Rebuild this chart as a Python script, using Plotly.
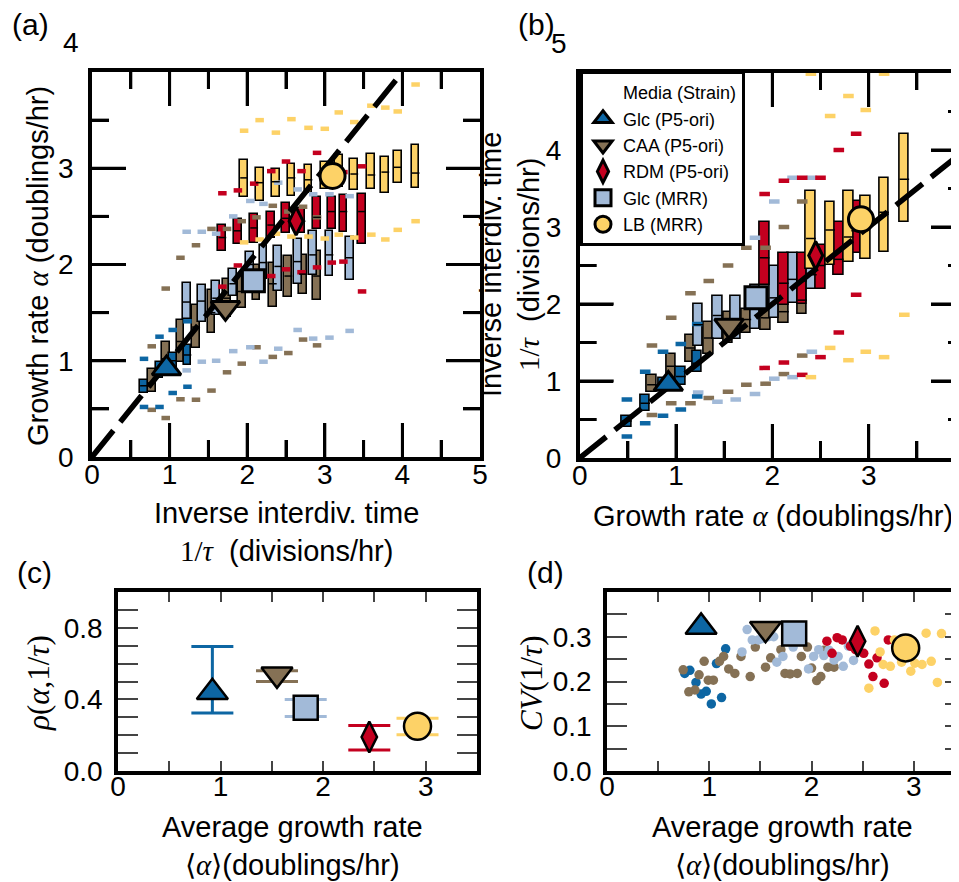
import plotly.graph_objects as go

W, H = 959, 882
SANS = "Liberation Sans, Arial, sans-serif"
SERIF = "Liberation Serif, Times New Roman, serif"

# ---------------- series ----------------
series_names = ["Glc (P5-ori)", "CAA (P5-ori)", "RDM (P5-ori)", "Glc (MRR)", "LB (MRR)"]
series_colors = ["#0d66a3", "#857155", "#c4001f", "#a2bad8", "#fdd267"]
series_symbols = ["triangle-up", "triangle-down", "diamond-tall", "square", "circle"]

# ---------------- panel (a): alpha binned by 1/tau ----------------
a_glc_p5_x = [0.67, 0.87, 1.04, 1.23]
a_glc_p5_q1 = [0.665, 0.82, 0.90, 0.96]
a_glc_p5_med = [0.74, 0.91, 1.00, 1.06]
a_glc_p5_q3 = [0.80, 0.99, 1.08, 1.16]
a_glc_p5_lo = [0.52, 0.52, 0.665, 0.73]
a_glc_p5_hi = [1.02, 1.25, 1.32, 1.41]

a_caa_x = [0.77, 0.95, 1.14, 1.34, 1.54, 1.74, 1.93, 2.12, 2.33, 2.53, 2.72, 2.90]
a_caa_q1 = [0.675, 0.89, 0.99, 1.13, 1.29, 1.45, 1.55, 1.63, 1.56, 1.66, 1.69, 1.63]
a_caa_med = [0.77, 1.02, 1.20, 1.35, 1.50, 1.65, 1.72, 1.82, 1.80, 1.88, 1.90, 1.88]
a_caa_q3 = [0.91, 1.19, 1.42, 1.58, 1.74, 1.85, 1.88, 2.00, 2.02, 2.09, 2.10, 2.14]
a_caa_lo = [0.49, 0.405, 0.60, 0.595, 0.69, 0.88, 0.97, 1.14, 1.04, 1.08, 1.22, 1.16]
a_caa_hi = [1.15, 1.75, 2.07, 2.20, 2.37, 2.37, 2.45, 2.49, 2.61, 2.55, 2.60, 2.49]

a_rdm_x = [1.68, 1.88, 2.09, 2.31, 2.50, 2.70, 2.90, 3.09, 3.24, 3.48]
a_rdm_q1 = [2.14, 2.21, 2.22, 2.28, 2.33, 2.33, 2.37, 2.37, 2.34, 2.21]
a_rdm_med = [2.28, 2.35, 2.38, 2.41, 2.48, 2.45, 2.49, 2.55, 2.55, 2.55]
a_rdm_q3 = [2.41, 2.47, 2.52, 2.55, 2.64, 2.59, 2.70, 2.70, 2.72, 2.73]
a_rdm_lo = [1.77, 1.99, 1.85, 1.88, 1.95, 1.92, 1.97, 2.02, 2.03, 1.72]
a_rdm_hi = [2.74, 2.77, 2.84, 2.97, 3.07, 2.97, 3.16, 3.00, 2.96, 3.02]

a_glc_mrr_x = [1.22, 1.415, 1.60, 1.82, 2.04, 2.21, 2.40, 2.65, 2.85, 3.06, 3.32]
a_glc_mrr_q1 = [1.43, 1.40, 1.48, 1.67, 1.89, 1.85, 1.72, 1.80, 1.89, 1.88, 1.84]
a_glc_mrr_med = [1.61, 1.62, 1.65, 1.80, 2.00, 2.02, 1.98, 2.03, 2.10, 2.10, 2.07]
a_glc_mrr_q3 = [1.81, 1.79, 1.83, 1.95, 2.13, 2.20, 2.19, 2.26, 2.35, 2.35, 2.29]
a_glc_mrr_lo = [0.90, 0.99, 1.00, 1.10, 1.14, 0.99, 1.125, 1.32, 1.23, 1.24, 1.31]
a_glc_mrr_hi = [2.34, 2.34, 2.32, 2.50, 2.66, 2.63, 2.85, 2.78, 2.73, 2.73, 2.71]

a_lb_x = [1.96, 2.16, 2.37, 2.57, 2.79, 3.00, 3.18, 3.38, 3.60, 3.78, 3.94, 4.17]
a_lb_q1 = [2.70, 2.66, 2.70, 2.71, 2.74, 2.78, 2.81, 2.77, 2.78, 2.74, 2.85, 2.79]
a_lb_med = [2.90, 2.85, 2.86, 2.90, 2.88, 2.92, 2.95, 2.94, 2.93, 2.96, 3.01, 2.95]
a_lb_q3 = [3.09, 3.00, 2.99, 3.04, 3.03, 3.06, 3.14, 3.10, 3.15, 3.12, 3.18, 3.24]
a_lb_lo = [2.23, 2.26, 2.32, 2.29, 2.29, 2.27, 2.31, 2.28, 2.31, 2.26, 2.36, 2.45]
a_lb_hi = [3.39, 3.50, 3.37, 3.51, 3.42, 3.41, 3.58, 3.48, 3.65, 3.63, 3.59, 3.87]

# ---------------- panel (b): 1/tau binned by alpha ----------------
b_glc_p5_x = [0.49, 0.68, 0.865, 1.05, 1.22]
b_glc_p5_q1 = [0.40, 0.61, 0.87, 0.95, 1.12]
b_glc_p5_med = [0.48, 0.71, 0.96, 1.06, 1.23]
b_glc_p5_q3 = [0.55, 0.82, 1.04, 1.18, 1.39]
b_glc_p5_lo = [0.28, 0.45, 0.55, 0.63, 0.80]
b_glc_p5_hi = [0.76, 1.12, 1.38, 1.48, 1.74]

b_caa_x = [0.75, 0.95, 1.15, 1.34, 1.54, 1.73, 1.93, 2.12, 2.31]
b_caa_q1 = [0.86, 1.02, 1.25, 1.35, 1.50, 1.62, 1.66, 1.75, 1.87]
b_caa_med = [0.95, 1.19, 1.43, 1.56, 1.70, 1.80, 1.82, 1.90, 2.05]
b_caa_q3 = [1.08, 1.35, 1.60, 1.76, 1.90, 1.94, 2.05, 2.20, 2.40]
b_caa_lo = [0.56, 0.71, 0.71, 0.78, 0.86, 0.95, 0.965, 1.09, 1.33]
b_caa_hi = [1.46, 1.82, 2.14, 2.30, 2.50, 2.73, 2.73, 3.00, 3.33]

b_rdm_x = [1.92, 2.12, 2.31, 2.50, 2.69, 2.87]
b_rdm_q1 = [2.25, 1.99, 2.00, 2.19, 2.38, 2.66]
b_rdm_med = [2.60, 2.27, 2.30, 2.50, 2.58, 2.95]
b_rdm_q3 = [3.07, 2.66, 2.66, 2.77, 3.06, 3.34]
b_rdm_lo = [1.17, 1.24, 1.08, 1.31, 1.63, 2.12]
b_rdm_hi = [3.43, 3.60, 3.64, 3.64, 4.00, 4.21]

b_glc_mrr_x = [1.23, 1.43, 1.62, 1.82, 2.02, 2.21, 2.41]
b_glc_mrr_q1 = [1.46, 1.54, 1.54, 1.67, 1.82, 2.01, 2.19]
b_glc_mrr_med = [1.73, 1.85, 1.80, 1.95, 2.08, 2.32, 2.38]
b_glc_mrr_q3 = [2.00, 2.10, 2.10, 2.25, 2.49, 2.66, 2.53]
b_glc_mrr_lo = [0.85, 0.73, 0.76, 0.83, 1.03, 1.05, 1.38]
b_glc_mrr_hi = [2.86, 2.86, 2.86, 2.86, 3.33, 3.64, 3.64]

b_lb_x = [2.40, 2.60, 2.79, 2.97, 3.16, 3.37]
b_lb_q1 = [2.45, 2.51, 2.55, 2.58, 2.68, 3.07]
b_lb_med = [2.85, 2.96, 2.87, 3.00, 3.19, 3.62]
b_lb_q3 = [3.47, 3.33, 3.47, 3.40, 3.64, 4.21]
b_lb_lo = [1.05, 1.43, 1.27, 1.38, 1.31, 1.86]
b_lb_hi = [4.99, 4.44, 4.70, 4.52, 4.99, 5.30]

# ---------------- population means ----------------
mean_alpha = [0.92, 1.55, 2.45, 1.83, 2.92]
mean_inv_tau = [0.96, 1.72, 2.63, 2.08, 3.10]
rho = [0.44, 0.54, 0.19, 0.354, 0.25]
rho_hi = [0.695, 0.56, 0.254, 0.40, 0.295]
rho_lo = [0.324, 0.50, 0.118, 0.305, 0.203]
cv_mean = [0.322, 0.318, 0.29, 0.307, 0.275]

# ---------------- panel (d): per-lineage CV ----------------
d_glc_p5_x = [0.76, 0.81, 0.87, 0.92, 0.97, 1.02, 1.07, 1.12, 1.16]
d_glc_p5_cv = [0.218, 0.225, 0.198, 0.172, 0.178, 0.150, 0.240, 0.164, 0.273]
d_caa_x = [0.745, 0.80, 0.86, 0.90, 0.95, 0.99, 1.04, 1.10, 1.14, 1.19, 1.25, 1.31, 1.40, 1.45,
           1.55, 1.60, 1.70, 1.74, 1.79, 1.86, 1.90, 1.96, 2.00, 2.05, 2.09, 2.12, 2.16, 2.22]
d_caa_cv = [0.226, 0.177, 0.181, 0.215, 0.245, 0.203, 0.203, 0.245, 0.256, 0.228, 0.218, 0.256, 0.211, 0.277,
            0.232, 0.253, 0.271, 0.218, 0.217, 0.218, 0.256, 0.277, 0.230, 0.202, 0.211, 0.270, 0.232, 0.232]
d_glc_mrr_x = [1.32, 1.37, 1.42, 1.48, 1.52, 1.58, 1.63, 1.66, 1.72, 1.82, 1.97, 2.02, 2.07, 2.12,
               2.17, 2.22, 2.26, 2.31, 2.36, 2.41]
d_glc_mrr_cv = [0.266, 0.316, 0.293, 0.293, 0.296, 0.300, 0.300, 0.243, 0.256, 0.277, 0.228, 0.256, 0.271, 0.258,
                0.270, 0.248, 0.256, 0.234, 0.279, 0.247]
d_rdm_x = [2.15, 2.20, 2.25, 2.30, 2.38, 2.43, 2.51, 2.56, 2.60, 2.64, 2.71, 2.75]
d_rdm_cv = [0.290, 0.263, 0.298, 0.293, 0.279, 0.271, 0.263, 0.239, 0.211, 0.253, 0.196, 0.293]
d_lb_x = [2.56, 2.62, 2.67, 2.70, 2.77, 2.81, 2.88, 2.97, 3.01, 3.08, 3.12, 3.17, 3.23, 3.27]
d_lb_cv = [0.185, 0.313, 0.266, 0.238, 0.234, 0.293, 0.243, 0.223, 0.241, 0.238, 0.308, 0.245, 0.198, 0.307]

identity_line = [0, 4]

# axis tick labels / tick marks
a_y_ticks = [0, 1, 2, 3]
a_y_top = 4
b_y_ticks = [0, 1, 2, 3, 4]
b_y_top = 5
a_x_marks = [0.5, 1, 1.5, 2, 2.5, 3, 3.5, 4, 4.5]
a_y_marks = [0.5, 1, 1.5, 2, 2.5, 3, 3.5]
b_x_marks = [0.5, 1, 1.5, 2, 2.5, 3, 3.5]
b_y_marks = [0.5, 1, 1.5, 2, 2.5, 3, 3.5, 4, 4.5]

# ---------------------------------------------------------------
a_sets = [
    (a_glc_p5_x, a_glc_p5_q1, a_glc_p5_med, a_glc_p5_q3, a_glc_p5_lo, a_glc_p5_hi),
    (a_caa_x, a_caa_q1, a_caa_med, a_caa_q3, a_caa_lo, a_caa_hi),
    (a_rdm_x, a_rdm_q1, a_rdm_med, a_rdm_q3, a_rdm_lo, a_rdm_hi),
    (a_glc_mrr_x, a_glc_mrr_q1, a_glc_mrr_med, a_glc_mrr_q3, a_glc_mrr_lo, a_glc_mrr_hi),
    (a_lb_x, a_lb_q1, a_lb_med, a_lb_q3, a_lb_lo, a_lb_hi),
]
b_sets = [
    (b_glc_p5_x, b_glc_p5_q1, b_glc_p5_med, b_glc_p5_q3, b_glc_p5_lo, b_glc_p5_hi),
    (b_caa_x, b_caa_q1, b_caa_med, b_caa_q3, b_caa_lo, b_caa_hi),
    (b_rdm_x, b_rdm_q1, b_rdm_med, b_rdm_q3, b_rdm_lo, b_rdm_hi),
    (b_glc_mrr_x, b_glc_mrr_q1, b_glc_mrr_med, b_glc_mrr_q3, b_glc_mrr_lo, b_glc_mrr_hi),
    (b_lb_x, b_lb_q1, b_lb_med, b_lb_q3, b_lb_lo, b_lb_hi),
]
d_sets = [(d_glc_p5_x, d_glc_p5_cv), (d_caa_x, d_caa_cv), (d_rdm_x, d_rdm_cv),
          (d_glc_mrr_x, d_glc_mrr_cv), (d_lb_x, d_lb_cv)]

draw_order = [1, 3, 0, 2, 4]  # brown, light blue, dark blue, red, yellow
BOX_W = 0.1

fig = go.Figure()

panels = [(a_sets, "x", "y", 77.5), (b_sets, "x2", "y2", 96.4)]

for sets, xa, ya, pxunit in panels:
    for i in draw_order:
        xs, q1, med, q3, lo, hi = sets[i]
        fig.add_trace(go.Bar(
            x=xs, y=[b - a for a, b in zip(q1, q3)], base=q1, width=BOX_W,
            marker=dict(color=series_colors[i], line=dict(color="black", width=1.6)),
            xaxis=xa, yaxis=ya, showlegend=False, hoverinfo="skip"))

for sets, xa, ya, pxunit in panels:
    dash_len = BOX_W * pxunit * 1.1
    for i in draw_order:
        xs, q1, med, q3, lo, hi = sets[i]
        fig.add_trace(go.Scatter(
            x=xs + xs, y=lo + hi, mode="markers",
            marker=dict(symbol="line-ew", size=dash_len / 1.4, color=series_colors[i],
                        line=dict(color=series_colors[i], width=4.5)),
            xaxis=xa, yaxis=ya, showlegend=False, hoverinfo="skip", cliponaxis=True))

for sets, xa, ya, pxunit in panels:
    med_len = BOX_W * pxunit
    for i in draw_order:
        xs, q1, med, q3, lo, hi = sets[i]
        fig.add_trace(go.Scatter(
            x=xs, y=med, mode="markers",
            marker=dict(symbol="line-ew", size=med_len / 1.4, color="black",
                        line=dict(color="black", width=1.5)),
            xaxis=xa, yaxis=ya, showlegend=False, hoverinfo="skip"))

for xa, ya in [("x", "y"), ("x2", "y2")]:
    fig.add_trace(go.Scatter(
        x=identity_line, y=identity_line, mode="lines",
        line=dict(color="black", width=5.5, dash="34px,11px"),
        xaxis=xa, yaxis=ya, showlegend=False, hoverinfo="skip"))

for i in [0, 1, 3, 2, 4]:
    xs, cv = d_sets[i]
    fig.add_trace(go.Scatter(
        x=xs, y=cv, mode="markers",
        marker=dict(symbol="circle", size=9.5, color=series_colors[i], line=dict(width=0)),
        xaxis="x4", yaxis="y4", showlegend=False, hoverinfo="skip"))

big_sizes = {"triangle-up": 25, "triangle-down": 25, "diamond-tall": 20, "square": 22, "circle": 25}

fig.add_trace(go.Scatter(x=[None], y=[None], mode="markers", name="Media (Strain)",
                         marker=dict(size=0.1, color="rgba(0,0,0,0)", line=dict(width=0)),
                         xaxis="x2", yaxis="y2", showlegend=True, legendrank=1))

for i in range(5):
    sym = series_symbols[i]
    sz = big_sizes[sym]
    mk = dict(symbol=sym, size=sz, color=series_colors[i], line=dict(color="black", width=3))
    fig.add_trace(go.Scatter(x=[mean_inv_tau[i]], y=[mean_alpha[i]], mode="markers", marker=mk,
                             xaxis="x", yaxis="y", showlegend=False, hoverinfo="skip"))
    fig.add_trace(go.Scatter(x=[mean_alpha[i]], y=[mean_inv_tau[i]], mode="markers", marker=mk,
                             xaxis="x2", yaxis="y2", name=series_names[i], showlegend=True,
                             legendrank=2 + i, legendgroup=series_names[i]))
    mk_c = dict(symbol=sym, size=sz + 2, color=series_colors[i], line=dict(color="black", width=2.5))
    fig.add_trace(go.Scatter(
        x=[mean_alpha[i]], y=[rho[i]], mode="markers", marker=mk_c,
        error_y=dict(type="data", symmetric=False, array=[rho_hi[i] - rho[i]],
                     arrayminus=[rho[i] - rho_lo[i]], color=series_colors[i], thickness=3, width=21),
        xaxis="x3", yaxis="y3", showlegend=False, hoverinfo="skip"))
    fig.add_trace(go.Scatter(x=[mean_alpha[i]], y=[cv_mean[i]], mode="markers", marker=mk_c,
                             xaxis="x4", yaxis="y4", showlegend=False, hoverinfo="skip"))


def axis(domain, rng, anchor, ticklen, minor_len, dtick=None, tickvals=None, minor_dtick=None,
         fmt=None, tickcolor="black", standoff=8, tw=3):
    d = dict(domain=domain, range=rng, anchor=anchor, showline=True, linecolor="black",
             linewidth=3.5, mirror="allticks", ticks="inside", ticklen=ticklen, tickwidth=tw,
             tickcolor=tickcolor, showgrid=False, zeroline=False, fixedrange=True, automargin=False,
             tickfont=dict(family=SANS, size=28, color="black"), ticklabelstandoff=standoff)
    if dtick is not None:
        d["dtick"] = dtick
        d["tick0"] = 0
    if tickvals is not None:
        d["tickmode"] = "array"
        d["tickvals"] = tickvals
    if fmt:
        d["tickformat"] = fmt
    if minor_dtick is not None:
        d["minor"] = dict(ticks="inside", ticklen=minor_len, dtick=minor_dtick, tick0=0,
                          tickwidth=tw, tickcolor=tickcolor, showgrid=False)
    return d


A_X = [84 / W, 472 / W]
A_Y = [1 - 449 / H, 1 - 64 / H]
B_X = [571.7 / W, 957 / W]
B_Y = [1 - 450 / H, 1 - 65 / H]
C_X = [110 / W, 469 / W]
C_Y = [1 - 763 / H, 1 - 584 / H]
D_X = [599 / W, 957 / W]
D_Y = C_Y

fig.update_layout(
    template="none",
    width=W, height=H, margin=dict(l=0, r=0, t=0, b=0, autoexpand=False),
    paper_bgcolor="white", plot_bgcolor="white", barmode="overlay", bargap=0,
    showlegend=True,
    xaxis=axis(A_X, [0, 5], "y", 34, 17, dtick=1, minor_dtick=0.5, standoff=-10),
    yaxis=axis(A_Y, [0, 4], "x", 34, 17, tickvals=a_y_ticks, minor_dtick=0.5, standoff=9),
    xaxis2=axis(B_X, [0, 4], "y2", 34, 17, dtick=1, minor_dtick=0.5, standoff=-10),
    yaxis2=axis(B_Y, [0, 5], "x2", 34, 17, tickvals=b_y_ticks, minor_dtick=0.5, standoff=9),
    xaxis3=axis(C_X, [0, 3.5], "y3", 10, 10, dtick=1, minor_dtick=0.5, tickcolor="#444444", standoff=-12, tw=2),
    yaxis3=axis(C_Y, [0, 1.0], "x3", 20, 20, tickvals=[0, 0.4, 0.8], minor_dtick=0.1, fmt=".1f",
                tickcolor="#444444", standoff=6, tw=2),
    xaxis4=axis(D_X, [0, 3.5], "y4", 10, 10, dtick=1, minor_dtick=0.5, tickcolor="#444444", standoff=-12, tw=2),
    yaxis4=axis(D_Y, [0, 0.4], "x4", 20, 20, tickvals=[0, 0.1, 0.2, 0.3], minor_dtick=0.05, fmt=".1f",
                tickcolor="#444444", standoff=6, tw=2),
    legend=dict(x=572 / W, y=1 - 63 / H, xanchor="left", yanchor="top", bgcolor="white",
                bordercolor="black", borderwidth=3, font=dict(family=SANS, size=18, color="black"),
                tracegroupgap=2, itemsizing="trace", traceorder="normal"),
)

# inward tick marks for panels (a) and (b), placed through the axes' own scales
TICK_LINE = dict(color="black", width=3)


def tick_len(v):
    return 34 if abs(v - round(v)) < 1e-9 else 17


for xa, ya, xmarks, ymarks, xmax, ymax in [("x", "y", a_x_marks, a_y_marks, 5, 4),
                                           ("x2", "y2", b_x_marks, b_y_marks, 4, 5)]:
    for v in xmarks:
        L = tick_len(v)
        fig.add_shape(type="line", xref=xa, yref=ya, x0=v, x1=v, ysizemode="pixel", yanchor=0,
                      y0=0, y1=L, line=TICK_LINE, layer="above")
        fig.add_shape(type="line", xref=xa, yref=ya, x0=v, x1=v, ysizemode="pixel", yanchor=ymax,
                      y0=0, y1=-L, line=TICK_LINE, layer="above")
    for v in ymarks:
        L = tick_len(v)
        fig.add_shape(type="line", xref=xa, yref=ya, y0=v, y1=v, xsizemode="pixel", xanchor=0,
                      x0=0, x1=L, line=TICK_LINE, layer="above")
        fig.add_shape(type="line", xref=xa, yref=ya, y0=v, y1=v, xsizemode="pixel", xanchor=xmax,
                      x0=0, x1=-L, line=TICK_LINE, layer="above")

# top y tick labels sit above the frame, as in the original figure
fig.add_annotation(xref="paper", yref="y", x=73 / W, y=a_y_top, yshift=30, text=str(a_y_top),
                   showarrow=False, xanchor="right", yanchor="middle",
                   font=dict(family=SANS, size=28, color="black"))
fig.add_annotation(xref="paper", yref="y2", x=561 / W, y=b_y_top, yshift=30, text=str(b_y_top),
                   showarrow=False, xanchor="right", yanchor="middle",
                   font=dict(family=SANS, size=28, color="black"))

MATH = lambda s: '<span style="font-family:%s">%s</span>' % (SERIF, s)


def ann(x, y, text, angle=0, size=29):
    fig.add_annotation(xref="paper", yref="paper", x=x / W, y=1 - y / H, text=text, showarrow=False,
                       xanchor="center", yanchor="middle", textangle=angle,
                       font=dict(family=SANS, size=size, color="black"))


inv_tau_title = "Inverse interdiv. time<br>" + MATH("1/<i>τ</i>") + "  (divisions/hr)"
alpha_title = "Growth rate " + MATH("<i>α</i>") + " (doublings/hr)"
avg_title = "Average growth rate<br>" + MATH("⟨<i>α</i>⟩") + "(doublings/hr)"

ann(22, 17, "(a)", size=30)
ann(528, 17, "(b)", size=30)
ann(26, 564, "(c)", size=30)
ann(537, 564, "(d)", size=30)

ann(30, 258, alpha_title, angle=-90)
ann(278, 524, inv_tau_title)
ann(502, 257, inv_tau_title, angle=-90)
ann(765, 508, alpha_title)
ann(30, 675, MATH("<i>ρ</i>(<i>α</i>,1/<i>τ</i>)"), angle=-90, size=31)
ann(284, 838, avg_title)
ann(523, 675, MATH("<i>CV</i>(1/<i>τ</i>)"), angle=-90, size=31)
ann(774, 838, avg_title)

fig.write_html("out.html")
